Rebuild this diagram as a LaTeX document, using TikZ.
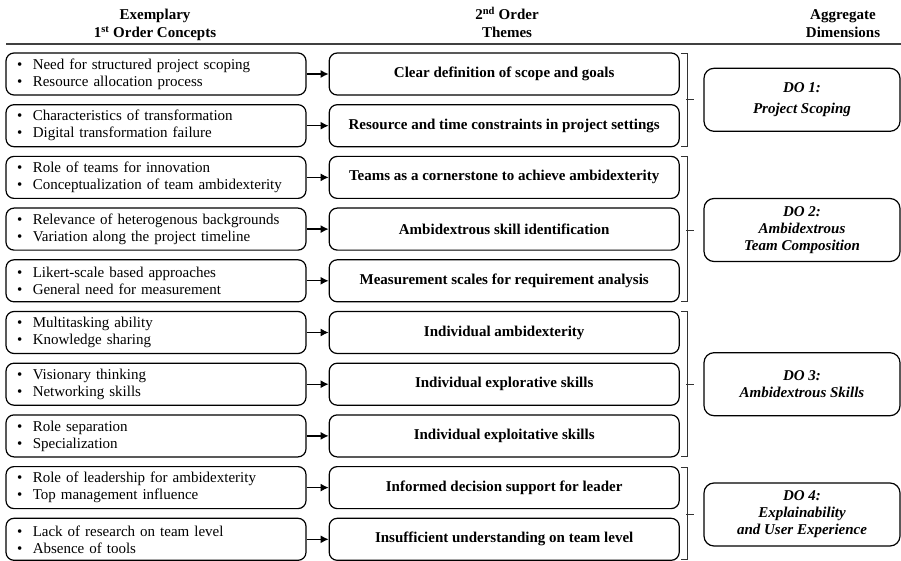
\documentclass[tikz,border=0pt]{standalone}
\usepackage{fontspec}
\setmainfont{Liberation Serif}
\usepackage{tikz}
\usetikzlibrary{arrows.meta,positioning,calc}
\newcommand{\itm}[1]{\textbullet\hspace{10.5pt}#1}
\newcommand{\bodyfont}{\fontsize{15}{17}\selectfont}

\begin{document}
\begin{tikzpicture}[x=1pt,y=-1pt,>={Latex[length=8pt,width=8pt]},line width=1.2pt]
        \tikzstyle{concept} = [draw, rounded corners=8pt, minimum width=300pt, minimum height=42pt, text width=278pt, inner xsep=11pt, align=left, font=\bodyfont]
        \tikzstyle{theme} = [draw, rounded corners=8pt, minimum width=350pt, minimum height=42pt, align=center, font=\bodyfont\bfseries]
        \tikzstyle{dim} = [draw, rounded corners=10pt, minimum width=196pt, minimum height=63pt, align=center, font=\bodyfont\bfseries\itshape]
        \tikzstyle{head} = [align=center, anchor=base, font=\fontsize{15}{17.5}\selectfont\bfseries]
        \tikzstyle{brace} = [line width=0.9pt, draw=black!80]
        \useasboundingbox (0,0) rectangle (901,561);

        % Header
        \node[head] (h1) at (155,37.5) {Exemplary\\1\textsuperscript{st} Order Concepts};
        \node[head] (h2) at (507,37.5) {2\textsuperscript{nd} Order\\Themes};
        \node[head] (h3) at (843,37.5) {Aggregate\\Dimensions};
        \draw[line width=2pt, black!75] (6,44) -- (901,44);

        % 1st order concepts
        \node[concept] (c1) at (156,74) {\itm{Need for structured project scoping}\\\itm{Resource allocation process}};
        \node[concept, below=8.5pt of c1] (c2) {\itm{Characteristics of transformation}\\\itm{Digital transformation failure}};
        \node[concept, below=8.5pt of c2] (c3) {\itm{Role of teams for innovation}\\\itm{Conceptualization of team ambidexterity}};
        \node[concept, below=8.5pt of c3] (c4) {\itm{Relevance of heterogenous backgrounds}\\\itm{Variation along the project timeline}};
        \node[concept, below=8.5pt of c4] (c5) {\itm{Likert-scale based approaches}\\\itm{General need for measurement}};
        \node[concept, below=8.5pt of c5] (c6) {\itm{Multitasking ability}\\\itm{Knowledge sharing}};
        \node[concept, below=8.5pt of c6] (c7) {\itm{Visionary thinking}\\\itm{Networking skills}};
        \node[concept, below=8.5pt of c7] (c8) {\itm{Role separation}\\\itm{Specialization}};
        \node[concept, below=8.5pt of c8] (c9) {\itm{Role of leadership for ambidexterity}\\\itm{Top management influence}};
        \node[concept, below=8.5pt of c9] (c10) {\itm{Lack of research on team level}\\\itm{Absence of tools}};

        % 2nd order themes
        \node[theme, right=22pt of c1] (t1) {Clear definition of scope and goals};
        \node[theme, right=22pt of c2] (t2) {Resource and time constraints in project settings};
        \node[theme, right=22pt of c3] (t3) {Teams as a cornerstone to achieve ambidexterity};
        \node[theme, right=22pt of c4] (t4) {Ambidextrous skill identification};
        \node[theme, right=22pt of c5] (t5) {Measurement scales for requirement analysis};
        \node[theme, right=22pt of c6] (t6) {Individual ambidexterity};
        \node[theme, right=22pt of c7] (t7) {Individual explorative skills};
        \node[theme, right=22pt of c8] (t8) {Individual exploitative skills};
        \node[theme, right=22pt of c9] (t9) {Informed decision support for leader};
        \node[theme, right=22pt of c10] (t10) {Insufficient understanding on team level};

        % Aggregate dimensions
        \node[dim] (d1) at (802,99.8) {DO 1:\\[4pt]Project Scoping};
        \node[dim] (d2) at (802,230) {DO 2:\\Ambidextrous\\Team Composition};
        \node[dim] (d3) at (802,384.2) {DO 3:\\Ambidextrous Skills};
        \node[dim] (d4) at (802,514.5) {DO 4:\\Explainability\\and User Experience};

        % Edges
        \foreach \i in {1,...,10}
            \draw[->] (c\i) -- (t\i);

        % Brackets
        \draw[brace] ($(t1.north east)+(1,1)$) -| ($(t2.south east)+(8,-1)$) -- ++(-7,0);
        \draw[brace] ($(t3.north east)+(1,1)$) -| ($(t5.south east)+(8,-1)$) -- ++(-7,0);
        \draw[brace] ($(t6.north east)+(1,1)$) -| ($(t8.south east)+(8,-1)$) -- ++(-7,0);
        \draw[brace] ($(t9.north east)+(1,1)$) -| ($(t10.south east)+(8,-1)$) -- ++(-7,0);
        \draw[brace] ($(d1.west)+(-17,0)$) -- ($(d1.west)+(-9,0)$);
        \draw[brace] ($(d2.west)+(-17,0)$) -- ($(d2.west)+(-9,0)$);
        \draw[brace] ($(d3.west)+(-17,0)$) -- ($(d3.west)+(-9,0)$);
        \draw[brace] ($(d4.west)+(-17,0)$) -- ($(d4.west)+(-9,0)$);
\end{tikzpicture}
\end{document}
